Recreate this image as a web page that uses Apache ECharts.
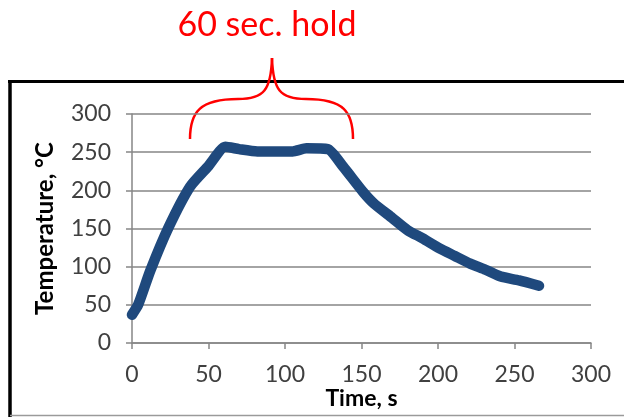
<!DOCTYPE html>
<html>
<head>
<meta charset="utf-8">
<script src="https://cdn.jsdelivr.net/npm/echarts@6/dist/echarts.min.js"></script>
<style>
  html, body { margin: 0; padding: 0; background: #fff; }
  #main { width: 624px; height: 417px; }
</style>
</head>
<body>
<div id="main"></div>
<script>
// time (s) and temperature (°C)
const timeSec = [0, 4, 12, 24, 38, 50, 61, 70, 82, 95, 105, 114, 128, 138, 151, 158, 170, 180, 190, 201, 211, 221, 231, 241, 253, 266];
const tempC = [37, 50, 95, 152, 205, 232, 257, 254, 251, 251, 251, 255, 254, 231, 198, 183, 164, 148, 137, 124, 114, 104, 96, 87, 82, 75];
const xTicks = [0, 50, 100, 150, 200, 250, 300];
const yTicks = [0, 50, 100, 150, 200, 250, 300];

const points = timeSec.map((t, i) => [t, tempC[i]]);
const font = 'Lato, "Open Sans", sans-serif';
const gray = '#868686';
const braceStyle = { stroke: '#ff0000', lineWidth: 2.5, fill: null };

const myChart = echarts.init(document.getElementById('main'));
myChart.setOption({
    animation: false,
    grid: {
        left: 132, right: 33, top: 114, bottom: 74,
        containLabel: false,
        outerBoundsMode: 'none'
    },
    xAxis: {
        type: 'value',
        min: xTicks[0], max: xTicks[xTicks.length - 1], interval: 50,
        name: 'Time, s',
        nameLocation: 'middle',
        nameGap: 44,
        nameMoveOverlap: false,
        nameTextStyle: { fontFamily: font, fontSize: 23, fontWeight: 'bold', color: '#000' },
        axisLine: { show: true, lineStyle: { color: gray, width: 1.5 } },
        axisTick: { show: true, length: 6, lineStyle: { color: gray, width: 1.5 } },
        axisLabel: { fontFamily: font, fontSize: 23, color: '#404040', margin: 20 },
        splitLine: { show: false }
    },
    yAxis: {
        type: 'value',
        min: yTicks[0], max: yTicks[yTicks.length - 1], interval: 50,
        name: 'Temperature, °C',
        nameLocation: 'middle',
        nameRotate: 90,
        nameGap: 75,
        nameTextStyle: { fontFamily: font, fontSize: 24, fontWeight: 'bold', color: '#000' },
        axisLine: { show: true, lineStyle: { color: gray, width: 1.5 } },
        axisTick: { show: true, length: 6, lineStyle: { color: gray, width: 1.5 } },
        axisLabel: { fontFamily: font, fontSize: 23, color: '#404040', margin: 21 },
        splitLine: { show: true, lineStyle: { color: gray, width: 1.5 } }
    },
    series: [{
        type: 'line',
        data: points,
        showSymbol: false,
        smooth: 0.2,
        lineStyle: { color: '#1f497d', width: 10.5, cap: 'round', join: 'round' }
    }],
    graphic: [
        // frame of the original picture
        { type: 'line', shape: { x1: 8, y1: 81.5, x2: 624, y2: 81.5 }, style: { stroke: '#000', lineWidth: 3 } },
        { type: 'line', shape: { x1: 10, y1: 80, x2: 10, y2: 417 }, style: { stroke: '#000', lineWidth: 3.5 } },
        { type: 'line', shape: { x1: 10, y1: 415.5, x2: 624, y2: 415.5 }, style: { stroke: '#9a9a9a', lineWidth: 1.5 } },
        // hold annotation: curly brace
        { type: 'bezierCurve', shape: { x1: 190, y1: 139, cpx1: 190, cpy1: 112, cpx2: 200, cpy2: 99, x2: 238, y2: 99 }, style: braceStyle },
        { type: 'bezierCurve', shape: { x1: 238, y1: 99, cpx1: 264, cpy1: 99, cpx2: 271, cpy2: 90, x2: 272, y2: 58 }, style: braceStyle },
        { type: 'bezierCurve', shape: { x1: 272, y1: 58, cpx1: 273, cpy1: 90, cpx2: 280, cpy2: 99, x2: 306, y2: 99 }, style: braceStyle },
        { type: 'bezierCurve', shape: { x1: 306, y1: 99, cpx1: 344, cpy1: 99, cpx2: 353, cpy2: 112, x2: 353, y2: 139 }, style: braceStyle },
        {
            type: 'text', x: 267, y: 25,
            style: { text: '60 sec. hold', fill: '#ff0000', font: '34px ' + font, align: 'center', verticalAlign: 'middle' }
        }
    ]
});
</script>
</body>
</html>
